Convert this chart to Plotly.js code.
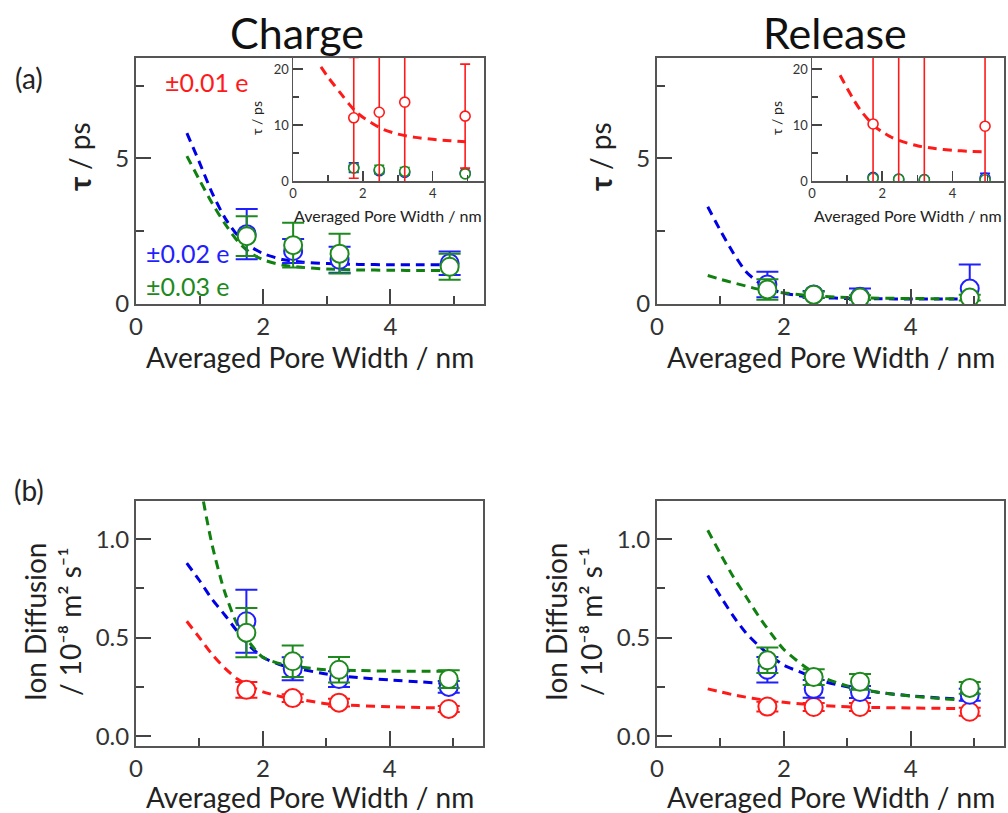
<!DOCTYPE html>
<html>
<head>
<meta charset="utf-8">
<script src="https://cdn.plot.ly/plotly-3.0.1.min.js"></script>
<style>html,body{margin:0;padding:0;background:#fff}#chart{width:1008px;height:813px}</style>
</head>
<body>
<div id="chart"></div>
<script>
// ---------- data ----------
const poreWidth = [1.74, 2.47, 3.2, 4.93];
const fitX = [0.8, 1.0, 1.2, 1.4, 1.6, 1.8, 2.0, 2.3, 2.6, 3.0, 3.5, 4.0, 4.5, 4.95];

// (a) Charge, tau / ps
const chargeTauRed = [11.3, 12.3, 14.1, 11.6];
const chargeTauRedErr = [10.8, 15, 16, 9.3];
const chargeTauBlue = [2.4, 1.82, 1.52, 1.4];
const chargeTauBlueErr = [0.86, 0.41, 0.45, 0.4];
const chargeTauGreen = [2.33, 2.02, 1.73, 1.28];
const chargeTauGreenErr = [0.68, 0.77, 0.68, 0.45];
const chargeTauRedFit = [20.4, 18.6, 17.0, 15.4, 13.8, 12.4, 11.4, 10.2, 9.2, 8.4, 7.8, 7.45, 7.2, 7.0];
const chargeTauBlueFit = [5.87, 4.85, 3.8, 2.95, 2.35, 1.97, 1.73, 1.53, 1.44, 1.39, 1.36, 1.35, 1.35, 1.35];
const chargeTauGreenFit = [5.08, 4.25, 3.45, 2.75, 2.15, 1.75, 1.52, 1.34, 1.26, 1.2, 1.17, 1.16, 1.15, 1.15];

// (a) Release, tau / ps
const releaseTauRed = [10.2, 35, 30, 9.8];
const releaseTauRedErr = [15, 40, 40, 15];
const releaseTauBlue = [0.67, 0.33, 0.25, 0.53];
const releaseTauBlueErr = [0.44, 0.12, 0.28, 0.83];
const releaseTauGreen = [0.5, 0.32, 0.22, 0.22];
const releaseTauGreenErr = [0.35, 0.1, 0.08, 0.1];
const releaseTauRedFit = [18.9, 16.6, 14.4, 12.5, 11.0, 9.7, 8.8, 7.7, 7.0, 6.3, 5.8, 5.5, 5.3, 5.2];
const releaseTauBlueFit = [3.34, 2.52, 1.76, 1.12, 0.74, 0.5, 0.37, 0.27, 0.22, 0.19, 0.18, 0.17, 0.17, 0.17];
const releaseTauGreenFit = [0.98, 0.85, 0.73, 0.62, 0.51, 0.44, 0.38, 0.31, 0.26, 0.22, 0.2, 0.19, 0.18, 0.18];

// (b) Charge, ion diffusion / 1e-8 m2 s-1
const chargeDRed = [0.235, 0.193, 0.17, 0.138];
const chargeDRedErr = [0.04, 0.02, 0.02, 0.015];
const chargeDBlue = [0.583, 0.342, 0.29, 0.25];
const chargeDBlueErr = [0.16, 0.058, 0.04, 0.03];
const chargeDGreen = [0.525, 0.38, 0.337, 0.29];
const chargeDGreenErr = [0.125, 0.08, 0.065, 0.045];
const chargeDRedFit = [0.583, 0.5, 0.415, 0.345, 0.29, 0.255, 0.225, 0.2, 0.185, 0.165, 0.155, 0.149, 0.145, 0.143];
const chargeDBlueFit = [0.878, 0.79, 0.695, 0.615, 0.53, 0.455, 0.4, 0.36, 0.34, 0.315, 0.297, 0.285, 0.275, 0.265];
const chargeDGreenFit = [1.87, 1.31, 0.97, 0.73, 0.565, 0.47, 0.4, 0.365, 0.35, 0.337, 0.333, 0.33, 0.33, 0.33];

// (b) Release, ion diffusion
const releaseDRed = [0.15, 0.148, 0.148, 0.124];
const releaseDRedErr = [0.025, 0.02, 0.02, 0.02];
const releaseDBlue = [0.337, 0.24, 0.224, 0.21];
const releaseDBlueErr = [0.065, 0.045, 0.03, 0.03];
const releaseDGreen = [0.385, 0.3, 0.276, 0.245];
const releaseDGreenErr = [0.065, 0.04, 0.04, 0.03];
const releaseDRedFit = [0.24, 0.225, 0.21, 0.198, 0.188, 0.18, 0.172, 0.163, 0.156, 0.149, 0.145, 0.143, 0.141, 0.14];
const releaseDBlueFit = [0.815, 0.71, 0.61, 0.525, 0.46, 0.405, 0.36, 0.32, 0.28, 0.25, 0.222, 0.205, 0.193, 0.185];
const releaseDGreenFit = [1.045, 0.925, 0.81, 0.71, 0.61, 0.52, 0.44, 0.36, 0.3, 0.255, 0.222, 0.203, 0.19, 0.18];

const xTickVals = [0, 2, 4];
const tauTickVals = [0, 5];
const insetTickVals = [0, 10, 20];
const dTickVals = [0, 0.5, 1.0];
const dTickText = ['0.0', '0.5', '1.0'];

// ---------- styling ----------
const RED = '#ff1a1a', BLUE = '#1f1fff', GREEN = '#1e8a1e';
const FIT_BLUE = '#0000e6', FIT_GREEN = '#108010';
const FONT = 'Lato, "Open Sans", "DejaVu Sans", sans-serif';

function fit(xa, ya, y, color) {
  return {x: fitX, y: y, xaxis: xa, yaxis: ya, mode: 'lines', type: 'scatter',
    line: {color: color, width: 3, dash: '9px,6px', shape: 'spline', smoothing: 0.7}, hoverinfo: 'skip'};
}
function pts(xa, ya, y, err, color, small) {
  return {x: poreWidth, y: y, xaxis: xa, yaxis: ya, mode: 'markers', type: 'scatter',
    marker: {symbol: 'circle', color: 'white', size: small ? 10 : 18, line: {color: color, width: small ? 1.6 : 2}},
    error_y: {type: 'data', array: err, visible: true, color: color, thickness: small ? 1.6 : 2, width: small ? 5 : 11}};
}

const traces = [
  // TL main
  fit('x', 'y', chargeTauBlueFit, FIT_BLUE),
  fit('x', 'y', chargeTauGreenFit, FIT_GREEN),
  pts('x', 'y', chargeTauBlue, chargeTauBlueErr, BLUE),
  pts('x', 'y', chargeTauGreen, chargeTauGreenErr, GREEN),
  // TR main
  fit('x2', 'y2', releaseTauBlueFit, FIT_BLUE),
  fit('x2', 'y2', releaseTauGreenFit, FIT_GREEN),
  pts('x2', 'y2', releaseTauBlue, releaseTauBlueErr, BLUE),
  pts('x2', 'y2', releaseTauGreen, releaseTauGreenErr, GREEN),
  // BL
  fit('x3', 'y3', chargeDRedFit, RED),
  fit('x3', 'y3', chargeDBlueFit, FIT_BLUE),
  fit('x3', 'y3', chargeDGreenFit, FIT_GREEN),
  pts('x3', 'y3', chargeDRed, chargeDRedErr, RED),
  pts('x3', 'y3', chargeDBlue, chargeDBlueErr, BLUE),
  pts('x3', 'y3', chargeDGreen, chargeDGreenErr, GREEN),
  // BR
  fit('x4', 'y4', releaseDRedFit, RED),
  fit('x4', 'y4', releaseDBlueFit, FIT_BLUE),
  fit('x4', 'y4', releaseDGreenFit, FIT_GREEN),
  pts('x4', 'y4', releaseDRed, releaseDRedErr, RED),
  pts('x4', 'y4', releaseDBlue, releaseDBlueErr, BLUE),
  pts('x4', 'y4', releaseDGreen, releaseDGreenErr, GREEN),
  // TL inset
  fit('x5', 'y5', chargeTauRedFit, RED),
  pts('x5', 'y5', chargeTauBlue, chargeTauBlueErr, BLUE, true),
  pts('x5', 'y5', chargeTauGreen, chargeTauGreenErr, GREEN, true),
  pts('x5', 'y5', chargeTauRed, chargeTauRedErr, RED, true),
  // TR inset
  fit('x6', 'y6', releaseTauRedFit, RED),
  pts('x6', 'y6', releaseTauBlue, releaseTauBlueErr, BLUE, true),
  pts('x6', 'y6', releaseTauGreen, releaseTauGreenErr, GREEN, true),
  pts('x6', 'y6', releaseTauRed, releaseTauRedErr, RED, true)
];

function px(v) { return v / 1008; }
function py(v) { return 1 - v / 813; }

function axis(domain, range, anchor, tickvals, minorDtick, small, ticktext) {
  const a = {
    domain: domain, range: range, anchor: anchor, showgrid: false, zeroline: false,
    showline: true, mirror: true, linecolor: '#555', linewidth: small ? 1.5 : 2,
    ticks: 'inside', ticklen: small ? 10 : 15, tickwidth: small ? 1.5 : 2, tickcolor: '#444',
    tickmode: 'array', tickvals: tickvals,
    tickfont: {family: FONT, size: small ? 13 : 24, color: '#333'},
    minor: {dtick: minorDtick, tick0: 0, ticks: 'inside', ticklen: small ? 6 : 8, tickwidth: small ? 1.5 : 2, tickcolor: '#444', showgrid: false},
    fixedrange: true
  };
  if (ticktext) a.ticktext = ticktext;
  return a;
}

const topY = [py(304), py(58)];
const botY = [py(746), py(500.7)];
const insY = [py(181), py(58)];
const xr = [0, 5.47];

const layout = {
  width: 1008, height: 813, margin: {l: 0, r: 0, t: 0, b: 0},
  paper_bgcolor: 'white', plot_bgcolor: 'white', showlegend: false,
  font: {family: FONT, color: '#222', size: 24},
  xaxis: axis([px(136), px(484)], xr, 'y', xTickVals, 1),
  yaxis: axis(topY, [0, 8.45], 'x', tauTickVals, 2.5),
  xaxis2: axis([px(657), px(1004)], xr, 'y2', xTickVals, 1),
  yaxis2: axis(topY, [0, 8.45], 'x2', tauTickVals, 2.5),
  xaxis3: axis([px(136), px(483)], xr, 'y3', xTickVals, 1),
  yaxis3: axis(botY, [-0.05, 1.195], 'x3', dTickVals, 0.25, false, dTickText),
  xaxis4: axis([px(657), px(1004)], xr, 'y4', xTickVals, 1),
  yaxis4: axis(botY, [-0.05, 1.195], 'x4', dTickVals, 0.25, false, dTickText),
  xaxis5: axis([px(293), px(484)], xr, 'y5', xTickVals, 1, true),
  yaxis5: axis(insY, [0, 22], 'x5', insetTickVals, 5, true),
  xaxis6: axis([px(812), px(1004)], xr, 'y6', xTickVals, 1, true),
  yaxis6: axis(insY, [0, 22], 'x6', insetTickVals, 5, true),
  annotations: []
};

function note(text, x, y, size, opts) {
  const o = opts || {};
  layout.annotations.push({
    text: text, xref: 'paper', yref: 'paper', x: px(x), y: py(y),
    xanchor: o.xanchor || 'center', yanchor: 'middle', showarrow: false,
    textangle: o.textangle || 0,
    font: {family: FONT, size: size, color: o.color || '#222', weight: o.weight || 'normal'}
  });
}

note('Charge', 297, 32, 43, {color: '#111'});
note('Release', 835, 32, 43, {color: '#111'});
note('(a)', 29, 78, 28);
note('(b)', 29, 490, 28);
// x-axis titles
note('Averaged Pore Width / nm', 310, 357, 28);
note('Averaged Pore Width / nm', 831, 357, 28);
note('Averaged Pore Width / nm', 310, 797, 28);
note('Averaged Pore Width / nm', 831, 797, 28);
note('Averaged Pore Width / nm', 388, 216, 16);
note('Averaged Pore Width / nm', 908, 216, 16);
// y-axis titles (tau bold, rest regular)
note('τ', 79, 184, 30, {textangle: -90, weight: 'bold'});
note('/ ps', 79, 146, 28, {textangle: -90});
note('τ', 600, 184, 30, {textangle: -90, weight: 'bold'});
note('/ ps', 600, 146, 28, {textangle: -90});
note('τ / ps', 256, 118, 14, {textangle: -90});
note('τ / ps', 776, 118, 14, {textangle: -90});
note('Ion Diffusion', 35, 622, 28, {textangle: -90});
note('/ 10⁻⁸ m² s⁻¹', 70, 622, 28, {textangle: -90});
note('Ion Diffusion', 556, 622, 28, {textangle: -90});
note('/ 10⁻⁸ m² s⁻¹', 591, 622, 28, {textangle: -90});
// charge labels
note('±0.01 e', 163, 82, 25, {xanchor: 'left', color: RED});
note('±0.02 e', 144, 253, 25, {xanchor: 'left', color: BLUE});
note('±0.03 e', 144, 286, 25, {xanchor: 'left', color: GREEN});

Plotly.newPlot('chart', traces, layout, {staticPlot: true, displayModeBar: false});
</script>
</body>
</html>
